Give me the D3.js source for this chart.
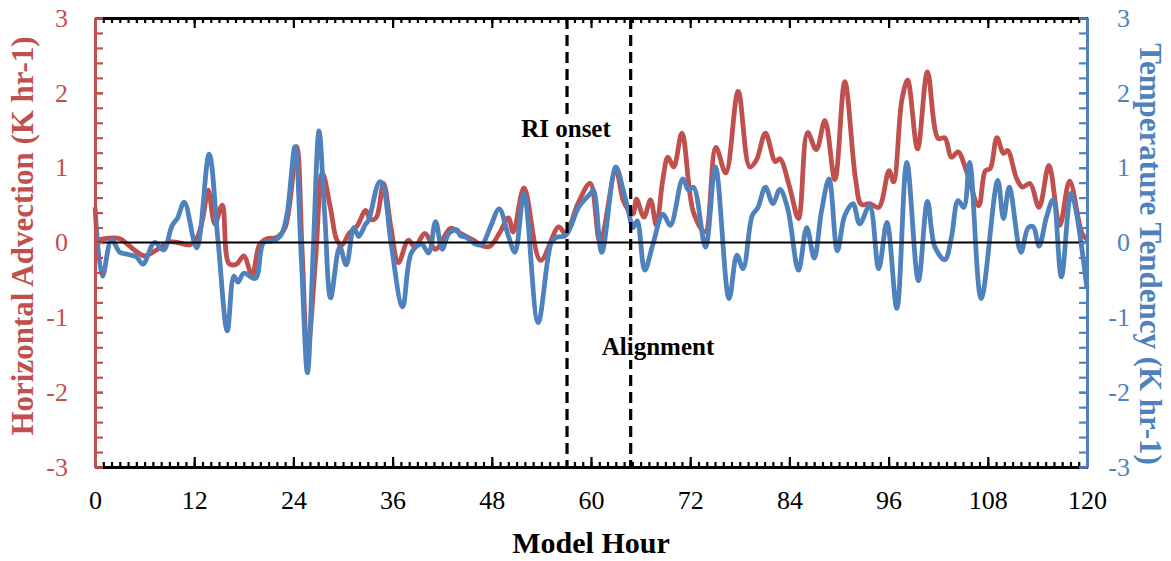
<!DOCTYPE html>
<html><head><meta charset="utf-8">
<script src="https://cdn.jsdelivr.net/npm/d3@7"></script>
<style>body{margin:0;background:#fff} svg{display:block}</style>
</head><body>
<svg id="chart" width="1171" height="561"></svg>
<script>
// ---- data ----
const xTickLabels = [0,12,24,36,48,60,72,84,96,108,120];
const yTickLabels = [-3,-2,-1,0,1,2,3];
const eventHours = [57.1, 64.8];
const eventLabels = ["RI onset", "Alignment"];

const advHours = [0,1,3,4,5,6,7,8,9,10,11.5,12.3,13,13.7,14.5,15.4,16.2,17.1,18,19,19.9,20.8,22,23,24.4,25.05,25.7,26.7,27.5,28.5,29.2,29.8,30.8,31.7,32.75,33.3,34,34.9,35.8,36.7,37.9,38.7,39.9,41.2,43,44.1,45.8,47,47.8,49,50,50.6,51.9,53.9,56.1,56.9,58.5,59.9,61.1,63,63.9,64.5,65.1,65.5,66.4,67.2,67.9,68.7,69.3,70,71,72.4,73.8,75.1,76.3,77.8,79.2,80,81.1,82.3,82.85,84,85.1,86.2,87.25,88.3,89.5,90.7,92,92.7,93.7,94.8,96.05,96.6,97.6,98.3,99.5,100.7,102,102.8,103.6,104.4,105.4,106.9,107.7,108.3,109.1,109.9,110.4,111.5,112.2,113.1,114.2,115.4,116.7,117.9,119.4,120];
const advValues = [0.02,0.05,0.05,-0.03,-0.12,-0.18,-0.13,-0.06,0.01,0.0,-0.03,0.05,0.3,0.70,0.25,0.5,-0.28,-0.29,-0.18,-0.44,-0.03,0.05,0.07,0.2,1.28,-0.1,-1.47,-0.2,0.93,0.45,0.05,-0.04,0.13,0.22,0.43,0.31,0.33,0.79,0.2,-0.27,0.03,-0.06,0.12,-0.09,0.19,0.13,0.03,-0.05,-0.05,0.14,0.33,0.14,0.73,-0.24,0.21,0.12,0.54,0.79,0.0,0.96,0.56,0.44,0.38,0.58,0.34,0.57,0.23,0.85,1.14,1.01,1.46,0.4,0.14,1.27,0.93,2.02,1.01,1.1,1.46,1.08,1.12,0.75,0.32,1.47,1.24,1.63,0.84,2.15,0.85,0.51,0.52,0.47,0.96,0.81,1.9,2.17,1.25,2.28,1.39,1.4,1.14,1.21,0.96,0.49,0.96,0.99,1.4,1.19,1.23,0.85,0.74,0.79,0.47,1.03,0.23,0.82,0.12,0.04];

const tendHours = [0,0.9,2,3,4,5,5.8,7.2,8.3,9.3,10,10.8,12.3,13.8,14.9,16,16.8,17.3,18,19.4,20.4,21.5,22.5,23.2,24.2,24.95,25.7,26.4,27.1,27.8,28.5,29.6,30.4,31.3,31.9,32.7,33.1,34.4,34.8,35.8,37.2,38.3,39.5,40.35,41.2,42,42.8,43.8,44.2,44.9,46,46.8,47.8,48.9,50,50.8,51.9,53.6,55.2,55.8,56.9,57.5,58.5,59.9,60.3,61.3,63,63.9,64.5,65.1,65.6,66.5,67.5,68.7,69.6,71.1,71.8,72.4,73.85,75.05,76.7,77.65,78.4,79.5,80.2,81.1,82,82.85,83.8,85.1,86.1,87,87.9,88.8,89.8,90.7,91.7,92.5,93.7,94.8,95.8,97,98.2,99.6,100.7,101.6,102.8,103.6,104.4,105.1,105.8,107.2,109.2,109.9,110.6,112,112.9,113.5,114.2,115.1,115.9,116.9,118.1,120];
const tendValues = [0.47,-0.45,0.04,-0.13,-0.16,-0.19,-0.29,0.0,-0.1,0.22,0.33,0.54,-0.07,1.18,0.0,-1.18,-0.45,-0.53,-0.41,-0.48,0.0,0.02,0.1,0.36,1.28,-0.2,-1.74,-0.1,1.49,0.35,-0.74,-0.06,-0.3,0.2,0.08,0.24,0.3,0.81,0.78,0.0,-0.86,-0.13,-0.02,-0.14,0.28,-0.09,0.12,0.17,0.09,0.07,-0.02,-0.03,0.2,0.45,0.09,-0.13,0.65,-1.07,0.0,0.07,0.09,0.2,0.47,0.65,0.7,-0.13,1.01,0.7,0.43,0.2,0.29,-0.37,-0.02,0.38,0.23,0.85,0.7,0.74,-0.06,1.01,-0.75,-0.17,-0.35,0.36,0.47,0.74,0.52,0.71,0.45,-0.37,0.2,-0.21,0.43,0.85,-0.11,0.36,0.52,0.25,0.49,-0.35,0.27,-0.88,1.07,-0.51,0.55,-0.06,-0.23,0.07,0.56,0.47,1.07,-0.75,0.83,0.32,0.74,-0.13,0.2,0.21,-0.05,0.34,0.57,-0.46,0.66,-0.62];

// ---- layout ----
const RED = "#C0504D", BLUE = "#4F81BD";
const FONT = "'Liberation Serif','Times New Roman',serif";
const M = {l:95, r:1087, t:18, b:467};
const svg = d3.select("#chart");
const x = d3.scaleLinear().domain([0,120]).range([M.l, M.r]);
const yL = d3.scaleLinear().domain([-3,3]).range([M.b, M.t]);
const yR = d3.scaleLinear().domain([-3,3]).range([M.b, M.t]);

const minorY = d3.range(-3, 3.001, 0.2).map(v => +v.toFixed(1));
const minorX = d3.range(0, 121, 1);

function styleAxis(g, color, width) {
  g.select(".domain").attr("stroke", color).attr("stroke-width", width);
  g.selectAll(".tick line").attr("stroke", color).attr("stroke-width", 2.2);
  g.selectAll("text").attr("fill", color).style("font-family", FONT).style("font-size", "26px");
}

// series
const advData = advHours.map((h,i) => [h, advValues[i]]);
const tendData = tendHours.map((h,i) => [h, tendValues[i]]);
const lineL = d3.line().x(d => x(d[0])).y(d => yL(d[1])).curve(d3.curveCatmullRom.alpha(0.5));
const lineR = d3.line().x(d => x(d[0])).y(d => yR(d[1])).curve(d3.curveCatmullRom.alpha(0.5));
svg.append("path").datum(advData).attr("d", lineL).attr("fill","none").attr("stroke",RED).attr("stroke-width",4.8).attr("stroke-linejoin","round");
svg.append("path").datum(tendData).attr("d", lineR).attr("fill","none").attr("stroke",BLUE).attr("stroke-width",4.8).attr("stroke-linejoin","round");

// zero line
svg.append("line").attr("x1", x(0)).attr("x2", x(120)).attr("y1", yL(0)).attr("y2", yL(0))
  .attr("stroke","#000").attr("stroke-width",2.2);

// event lines and labels
eventHours.forEach((h,i) => {
  svg.append("line").attr("x1", x(h)).attr("x2", x(h)).attr("y1", M.t).attr("y2", M.b)
    .attr("stroke","#000").attr("stroke-width",3.2).attr("stroke-dasharray","11,6");
});
const labelPos = [[566, 137], [658, 355]];
eventLabels.forEach((t,i) => {
  const g = svg.append("g");
  const txt = g.append("text").attr("x", labelPos[i][0]).attr("y", labelPos[i][1])
    .attr("text-anchor","middle").style("font-family",FONT).style("font-weight","bold")
    .style("font-size","25px").attr("fill","#000").text(t);
  const bb = txt.node().getBBox();
  g.insert("rect","text").attr("x", bb.x-3).attr("y", bb.y+2).attr("width", bb.width+6).attr("height", bb.height-2).attr("fill","#fff");
});

// bottom axis: minor + major with labels
const gBm = svg.append("g").attr("transform",`translate(0,${M.b})`)
  .call(d3.axisBottom(x).tickValues(minorX).tickSizeInner(-5).tickSizeOuter(0).tickFormat(""));
styleAxis(gBm, "#000", 3);
const gB = svg.append("g").attr("transform",`translate(0,${M.b})`)
  .call(d3.axisBottom(x).tickValues(xTickLabels).tickSizeInner(-10).tickSizeOuter(0).tickPadding(24).tickFormat(d3.format("d")));
styleAxis(gB, "#000", 3);

// top axis
const gTm = svg.append("g").attr("transform",`translate(0,${M.t})`)
  .call(d3.axisTop(x).tickValues(minorX).tickSizeInner(-5).tickSizeOuter(0).tickFormat(""));
styleAxis(gTm, "#000", 3);
const gT = svg.append("g").attr("transform",`translate(0,${M.t})`)
  .call(d3.axisTop(x).tickValues(xTickLabels).tickSizeInner(-10).tickSizeOuter(0).tickFormat(""));
styleAxis(gT, "#000", 3);

// left axis
const gL = svg.append("g").attr("transform",`translate(${M.l},0)`)
  .call(d3.axisLeft(yL).tickValues(minorY).tickSizeInner(-8).tickSizeOuter(0).tickFormat(""));
styleAxis(gL, RED, 3);
const gLl = svg.append("g").attr("transform",`translate(${M.l},0)`)
  .call(d3.axisLeft(yL).tickValues(yTickLabels).tickSizeInner(-8).tickSizeOuter(0).tickPadding(27).tickFormat(d => d < 0 ? "-" + Math.abs(d) : d));
styleAxis(gLl, RED, 3);

// right axis
const gR = svg.append("g").attr("transform",`translate(${M.r},0)`)
  .call(d3.axisRight(yR).tickValues(minorY).tickSizeInner(-8).tickSizeOuter(0).tickFormat(""));
styleAxis(gR, BLUE, 3);
const gRl = svg.append("g").attr("transform",`translate(${M.r},0)`)
  .call(d3.axisRight(yR).tickValues(yTickLabels).tickSizeInner(-8).tickSizeOuter(0).tickPadding(43).tickFormat(d => d < 0 ? "-" + Math.abs(d) : d));
styleAxis(gRl, BLUE, 3);
gRl.selectAll("text").attr("text-anchor","end");

// axis titles
svg.append("text").attr("transform",`translate(33,236) rotate(-90)`).attr("text-anchor","middle")
  .style("font-family",FONT).style("font-weight","bold").style("font-size","31px").attr("fill",RED)
  .text("Horizontal Advection (K hr-1)");
svg.append("text").attr("transform",`translate(1140,254) rotate(90)`).attr("text-anchor","middle")
  .style("font-family",FONT).style("font-weight","bold").style("font-size","31px").attr("fill",BLUE)
  .text("Temperature Tendency (K hr-1)");
svg.append("text").attr("x", (M.l+M.r)/2).attr("y", 553).attr("text-anchor","middle")
  .style("font-family",FONT).style("font-weight","bold").style("font-size","30px").attr("fill","#000")
  .text("Model Hour");
</script>
</body></html>
